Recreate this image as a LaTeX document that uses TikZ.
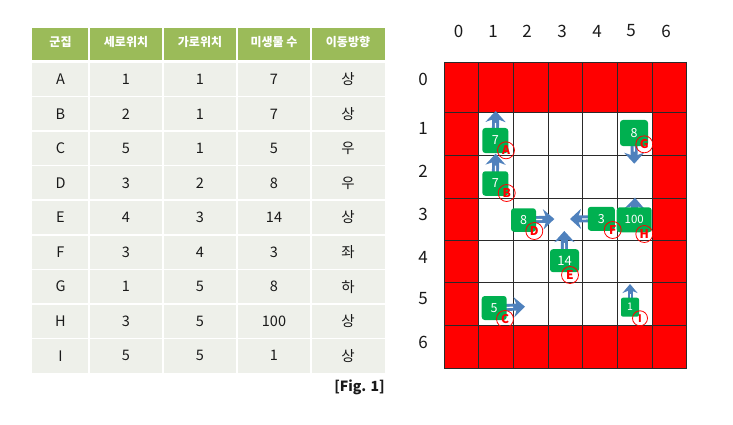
\documentclass[tikz,border=0pt]{standalone}
\usepackage{fontspec}
\setmainfont{Noto Sans CJK KR}
\usetikzlibrary{arrows.meta}
\definecolor{hdr}{HTML}{9BBB59}
\definecolor{cellbg}{HTML}{EEF0EA}
\definecolor{txt}{HTML}{1A1A1A}
\definecolor{gridred}{HTML}{FF0000}
\definecolor{gridln}{HTML}{2A2A2A}
\definecolor{boxgreen}{HTML}{00B050}
\definecolor{arrowblue}{HTML}{4F81BD}
\tikzset{
  hdrtxt/.style={text=white, font=\bfseries\fontsize{12}{12}\selectfont, inner sep=0pt},
  celltxt/.style={text=txt, font=\fontsize{14.5}{14.5}\selectfont, inner sep=0pt},
  axlab/.style={text=txt, font=\fontsize{17}{17}\selectfont, inner sep=0pt},
  boxg/.style={fill=boxgreen, rounded corners=3pt, inner sep=0pt, text=white, font=\fontsize{12.5}{12.5}\selectfont},
  lab/.style={circle, draw=gridred, line width=0.8pt, minimum size=17pt, inner sep=0pt, text=gridred, font=\bfseries\fontsize{12}{12}\selectfont},
  mvarrow/.style={draw=arrowblue, line width=7pt, -{Stealth[length=11pt,width=20pt,inset=3.5pt]},
     postaction={draw=white, line width=1.2pt, -, shorten >=12pt}},
  mvarrowsm/.style={draw=arrowblue, line width=5pt, -{Stealth[length=9pt,width=15pt,inset=3pt]},
     postaction={draw=white, line width=1pt, -, shorten >=10pt}},
  figlab/.style={text=txt, font=\bfseries\fontsize{14}{14}\selectfont, inner sep=0pt, anchor=east}
}
\begin{document}
\begin{tikzpicture}[x=1pt,y=-1pt]
\useasboundingbox (0,0) rectangle (733,425);
% ---------- table ----------
\fill[hdr] (32,28) rectangle (385,62);
\fill[cellbg] (32,62) rectangle (385,373);
\foreach \x in {89,163,237,311} \draw[white, line width=2pt] (\x,28) -- (\x,373);
\draw[white, line width=3pt] (32,62) -- (385,62);
\foreach \k in {1,...,8} \draw[white, line width=1.6pt] (32,62+34.56*\k) -- (385,62+34.56*\k);
\node[hdrtxt] (h1) at (60.5,42) {군집};
\node[hdrtxt] (h2) at (126,42) {세로위치};
\node[hdrtxt] (h3) at (200,42) {가로위치};
\node[hdrtxt] (h4) at (274,42) {미생물 수};
\node[hdrtxt] (h5) at (348,42) {이동방향};
\foreach \k/\a/\b/\c/\d/\e in {0/A/1/1/7/상, 1/B/2/1/7/상, 2/C/5/1/5/우, 3/D/3/2/8/우, 4/E/4/3/14/상, 5/F/3/4/3/좌, 6/G/1/5/8/하, 7/H/3/5/100/상, 8/I/5/5/1/상}{
  \node[celltxt] (r\k c1) at (60.5,79.3+34.56*\k) {\a};
  \node[celltxt] (r\k c2) at (126,79.3+34.56*\k) {\b};
  \node[celltxt] (r\k c3) at (200,79.3+34.56*\k) {\c};
  \node[celltxt] (r\k c4) at (274,79.3+34.56*\k) {\d};
  \node[celltxt] (r\k c5) at (348,79.3+34.56*\k) {\e};
}
\node[figlab] (fig) at (385,387) {[Fig. 1]};
% ---------- grid ----------
\foreach \i in {0,...,6}{
  \foreach \j/\ya/\yb in {0/62/112, 1/112/155, 2/155/198, 3/198/240, 4/240/282, 5/282/325, 6/325/368}{
    \pgfmathsetmacro{\xa}{444+34.67*\i}
    \pgfmathsetmacro{\xb}{444+34.67*(\i+1)}
    \ifnum\i=0 \def\cc{gridred}\else\ifnum\i=6 \def\cc{gridred}\else\ifnum\j=0 \def\cc{gridred}\else\ifnum\j=6 \def\cc{gridred}\else\def\cc{white}\fi\fi\fi\fi
    \fill[\cc] (\xa,\ya) rectangle (\xb,\yb);
  }
}
\foreach \i in {0,...,7} \draw[gridln, line width=0.9pt] (444+34.67*\i,62) -- (444+34.67*\i,368);
\foreach \y in {62,112,155,198,240,282,325,368} \draw[gridln, line width=0.9pt] (444,\y) -- (686.7,\y);
% axis labels
\foreach \n/\x in {0/458.7,1/493,2/527,3/562,4/597,5/631,6/666} \node[axlab] (cx\n) at (\x,31) {\n};
\foreach \n/\y in {0/79,1/128,2/171,3/214,4/257,5/299,6/342} \node[axlab] (ry\n) at (423,\y) {\n};
% arrow tips
\coordinate (tA) at (495.7,111);
\coordinate (tB) at (495.7,153.7);
\coordinate (tG) at (634.3,163.7);
\coordinate (tD) at (554.3,219);
\coordinate (tF) at (570,219);
\coordinate (tH) at (635,197.7);
\coordinate (tE) at (564.3,231);
\coordinate (tC) at (525,306.7);
\coordinate (tI) at (630,284);
% boxes (positions)
\coordinate (pA) at (495.3,140.5);
\coordinate (pB) at (495.3,183.5);
\coordinate (pG) at (634,133);
\coordinate (pD) at (523.5,220);
\coordinate (pF) at (601.3,218.8);
\coordinate (pH) at (634.2,219.8);
\coordinate (pE) at (564.5,260.7);
\coordinate (pC) at (494.2,308);
\coordinate (pI) at (630,307.2);
% arrows (behind boxes)
\draw[mvarrow] (pA) -- (tA);
\draw[mvarrow] (pB) -- (tB);
\draw[mvarrow] (pG) -- (tG);
\draw[mvarrow] (pD) -- (tD);
\draw[mvarrow] (pF) -- (tF);
\draw[mvarrow] (pH) -- (tH);
\draw[mvarrow] (pE) -- (tE);
\draw[mvarrow] (pC) -- (tC);
\draw[mvarrowsm] (pI) -- (tI);
% boxes
\node[boxg, minimum width=26pt, minimum height=25pt] (A) at (pA) {7};
\node[boxg, minimum width=26pt, minimum height=24.5pt] (B) at (pB) {7};
\node[boxg, minimum width=28pt, minimum height=26pt] (G) at (pG) {8};
\node[boxg, minimum width=25pt, minimum height=23.5pt] (D) at (pD) {8};
\node[boxg, minimum width=27pt, minimum height=24pt] (F) at (pF) {3};
\node[boxg, minimum width=35pt, minimum height=25pt, font=\fontsize{11.5}{11.5}\selectfont] (H) at (pH) {100};
\node[boxg, minimum width=29pt, minimum height=23pt, font=\fontsize{13}{13}\selectfont] (E) at (pE) {14};
\node[boxg, minimum width=25pt, minimum height=24pt] (C) at (pC) {5};
\node[boxg, minimum width=18pt, minimum height=19pt, rounded corners=2pt, font=\fontsize{10.5}{10.5}\selectfont] (I) at (pI) {1};
% circled letters
\node[lab] (cA) at (506,150.3) {A};
\node[lab] (cB) at (506.7,193) {B};
\node[lab] (cG) at (644.3,144.3) {G};
\node[lab] (cD) at (534.3,231) {D};
\node[lab] (cF) at (612.7,230) {F};
\node[lab] (cH) at (644.3,234) {H};
\node[lab] (cE) at (570,275) {E};
\node[lab] (cC) at (505,319) {C};
\node[lab, minimum size=15pt, font=\bfseries\fontsize{10.5}{10.5}\selectfont] (cI) at (640,318.3) {I};
\end{tikzpicture}
\end{document}
